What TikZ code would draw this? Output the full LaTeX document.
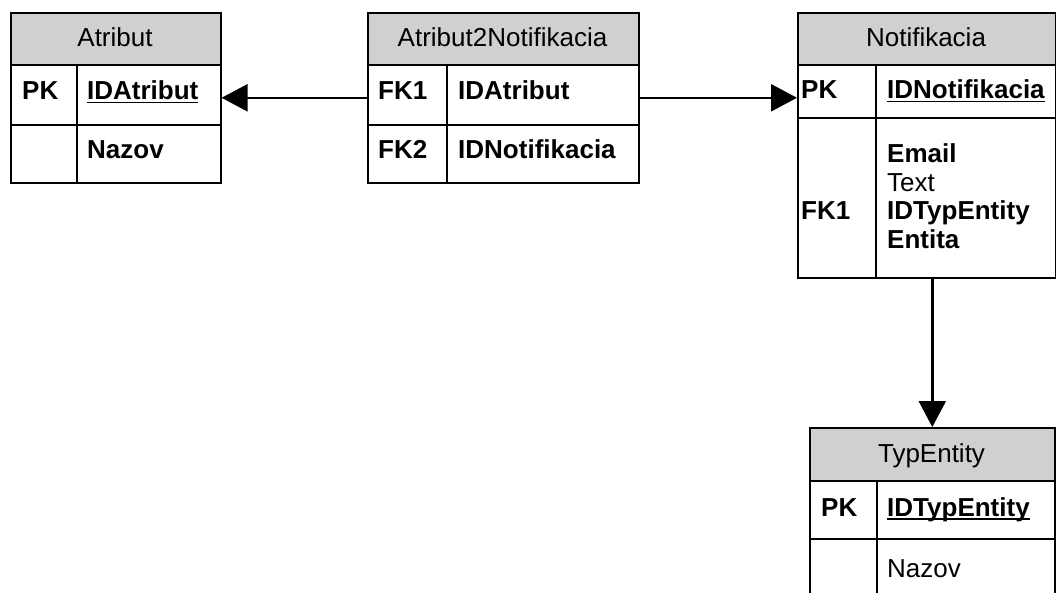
\documentclass[tikz,border=0pt]{standalone}
\usepackage{fontspec}
\setmainfont{Liberation Sans}
\usetikzlibrary{arrows.meta}
\definecolor{hdrgray}{RGB}{208,208,208}
\newcommand\ulfld[1]{\setbox0=\hbox{#1}\rlap{\rule[-3.5pt]{\wd0}{1.8pt}}\box0}
\tikzset{
  cell/.style={draw, line width=1.6pt, inner sep=0pt, anchor=north west},
  hdr/.style={cell, fill=hdrgray},
  txt/.style={anchor=base west, inner sep=0pt, font=\fontsize{26}{30}\selectfont\bfseries},
  txtn/.style={anchor=base west, inner sep=0pt, font=\fontsize{26}{30}\selectfont},
  ttl/.style={anchor=base, inner sep=0pt, font=\fontsize{26}{30}\selectfont},
  rel/.style={line width=2.4pt, -{Triangle[length=26pt,width=27pt]}}
}
\begin{document}
\begin{tikzpicture}[x=1pt,y=-1pt]
\useasboundingbox (0,0) rectangle (1056,593);
\clip (0,0) rectangle (1056,593);
% Atribut
\node[hdr, minimum width=210pt, minimum height=52pt] (atr-h) at (10,12) {};
\node[cell, minimum width=66pt, minimum height=60pt] (atr-k1) at (10,64) {};
\node[cell, minimum width=144pt, minimum height=60pt] (atr-f1) at (76,64) {};
\node[cell, minimum width=66pt, minimum height=58pt] (atr-k2) at (10,124) {};
\node[cell, minimum width=144pt, minimum height=58pt] (atr-f2) at (76,124) {};
\node[ttl] (atr-t) at (115,46.5) {Atribut};
\node[txt] (atr-k1t) at (22,100) {PK};
\node[txt] (atr-f1t) at (87,100) {\ulfld{IDAtribut}};
\node[txt] (atr-f2t) at (87,159) {Nazov};
% Atribut2Notifikacia
\node[hdr, minimum width=271pt, minimum height=52pt] (a2n-h) at (367,12) {};
\node[cell, minimum width=79pt, minimum height=60pt] (a2n-k1) at (367,64) {};
\node[cell, minimum width=192pt, minimum height=60pt] (a2n-f1) at (446,64) {};
\node[cell, minimum width=79pt, minimum height=58pt] (a2n-k2) at (367,124) {};
\node[cell, minimum width=192pt, minimum height=58pt] (a2n-f2) at (446,124) {};
\node[ttl] (a2n-t) at (502.5,46.5) {Atribut2Notifikacia};
\node[txt] (a2n-k1t) at (378,100) {FK1};
\node[txt] (a2n-f1t) at (458,100) {IDAtribut};
\node[txt] (a2n-k2t) at (378,159) {FK2};
\node[txt] (a2n-f2t) at (458,159) {IDNotifikacia};
% Notifikacia
\node[hdr, minimum width=258pt, minimum height=52pt] (not-h) at (797,12) {};
\node[cell, minimum width=78pt, minimum height=53pt] (not-k1) at (797,64) {};
\node[cell, minimum width=180pt, minimum height=53pt] (not-f1) at (875,64) {};
\node[cell, minimum width=78pt, minimum height=160pt] (not-k2) at (797,117) {};
\node[cell, minimum width=180pt, minimum height=160pt] (not-f2) at (875,117) {};
\node[ttl] (not-t) at (926,46.5) {Notifikacia};
\node[txt] (not-k1t) at (801,99) {PK};
\node[txt] (not-f1t) at (887,99) {\ulfld{IDNotifikacia}};
\node[txt] (not-email) at (887,163) {Email};
\node[txtn] (not-text) at (887,191.5) {Text};
\node[txt] (not-idtyp) at (887,220) {IDTypEntity};
\node[txt] (not-k2t) at (801,220) {FK1};
\node[txt] (not-entita) at (887,248.5) {Entita};
% TypEntity
\node[hdr, minimum width=245pt, minimum height=53pt] (typ-h) at (809,427) {};
\node[cell, minimum width=67pt, minimum height=58pt] (typ-k1) at (809,480) {};
\node[cell, minimum width=178pt, minimum height=58pt] (typ-f1) at (876,480) {};
\node[cell, minimum width=67pt, minimum height=80pt] (typ-k2) at (809,538) {};
\node[cell, minimum width=178pt, minimum height=80pt] (typ-f2) at (876,538) {};
\node[ttl] (typ-t) at (931.5,462) {TypEntity};
\node[txt] (typ-k1t) at (821,516) {PK};
\node[txt] (typ-f1t) at (887,516) {\ulfld{IDTypEntity}};
\node[txtn] (typ-f2t) at (887,577) {Nazov};
% relations
\draw[rel] ([yshift=-3pt]a2n-k1.west) -- ([yshift=-3pt]atr-f1.east);
\draw[rel] ([yshift=-3pt]a2n-f1.east) -- ([yshift=-3pt]a2n-f1.east -| not-k1.west);
\draw[rel] (typ-h.north |- not-f2.south) -- (typ-h.north);
\end{tikzpicture}
\end{document}
